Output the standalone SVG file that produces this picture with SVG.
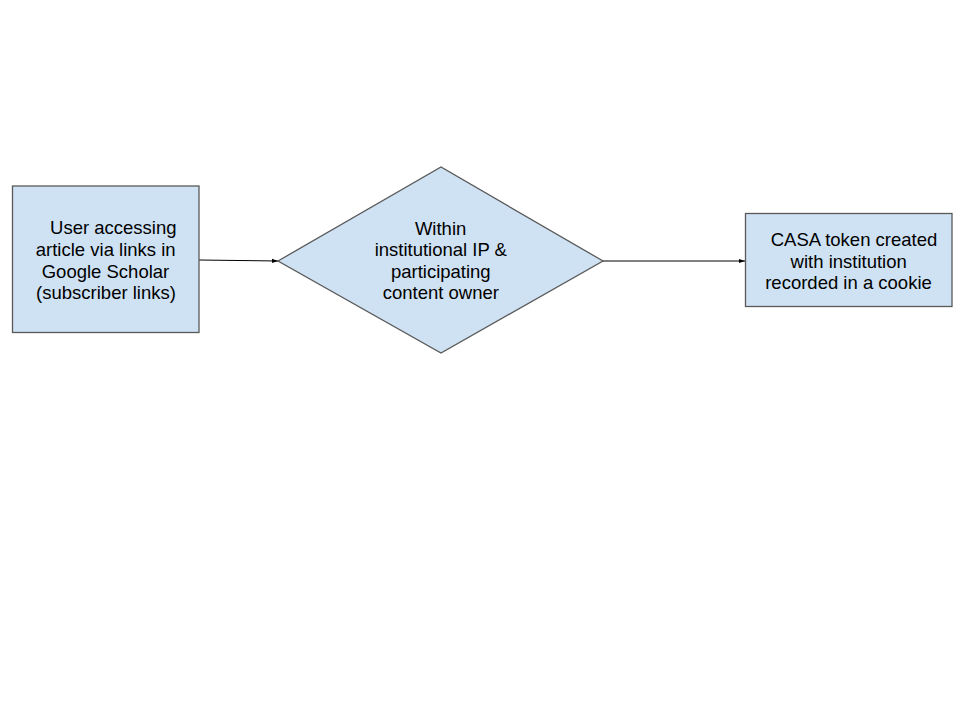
<svg xmlns="http://www.w3.org/2000/svg" width="962" height="722" viewBox="0 0 962 722">
<style>
.node{fill:#cfe2f3;stroke:#595959;stroke-width:1.3}
.t{font-family:"Liberation Sans",Arial,sans-serif;font-size:18.5px;fill:#000;text-anchor:middle}
.edge{stroke:#000;stroke-width:1;fill:none}
</style>
<defs>
<marker id="ah" viewBox="0 0 10 10" refX="10" refY="5" markerWidth="6" markerHeight="6" markerUnits="userSpaceOnUse" orient="auto">
<path d="M0,1.5 L10,5 L0,8.5 z" fill="#000"/>
</marker>
</defs>
<rect width="962" height="722" fill="#fff"/>
<g id="connectors">
<line class="edge" x1="199" y1="260" x2="278" y2="261" marker-end="url(#ah)"/>
<line class="edge" x1="603" y1="261" x2="745" y2="261" marker-end="url(#ah)"/>
</g>
<g id="user">
<rect class="node" x="12.5" y="186" width="186.5" height="146.5"/>
<text class="t" x="113.3" y="234.3">User accessing</text>
<text class="t" x="105.7" y="256">article via links in</text>
<text class="t" x="105.5" y="277.7">Google Scholar</text>
<text class="t" x="106" y="299.4">(subscriber links)</text>
</g>
<g id="decision">
<polygon class="node" points="278,261 441,167 603,261 441,353"/>
<text class="t" x="440.6" y="235">Within</text>
<text class="t" x="440.8" y="256.4">institutional IP &amp;</text>
<text class="t" x="440.8" y="277.8">participating</text>
<text class="t" x="440.8" y="299.2">content owner</text>
</g>
<g id="casa">
<rect class="node" x="745.5" y="213.5" width="206.5" height="93"/>
<text class="t" x="854" y="246.3">CASA token created</text>
<text class="t" x="848.7" y="267.8">with institution</text>
<text class="t" x="848.5" y="289.3">recorded in a cookie</text>
</g>
</svg>
